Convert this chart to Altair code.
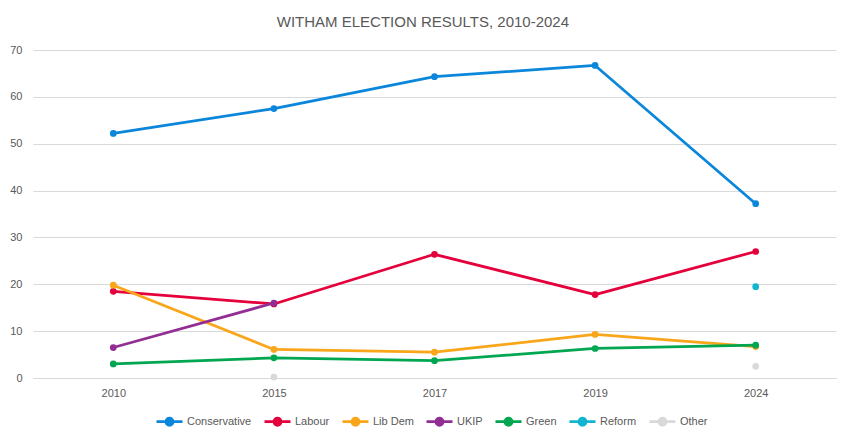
import pandas as pd
import altair as alt

years = ["2010", "2015", "2017", "2019", "2024"]

conservative = [52.2, 57.5, 64.3, 66.7, 37.2]
labour = [18.5, 15.8, 26.4, 17.8, 27.0]
lib_dem = [19.8, 6.1, 5.5, 9.3, 6.7]
ukip = [6.5, 16.0, None, None, None]
green = [3.0, 4.3, 3.7, 6.3, 7.0]
reform = [None, None, None, None, 19.5]
other = [None, 0.2, None, None, 2.5]

parties = ["Conservative", "Labour", "Lib Dem", "UKIP", "Green", "Reform", "Other"]
colours = ["#0A86DA", "#E4003B", "#FAA61A", "#922E93", "#00A650", "#12B5D0", "#D9D9D9"]
values = [conservative, labour, lib_dem, ukip, green, reform, other]

rows = []
for party, vals in zip(parties, values):
    for year, v in zip(years, vals):
        rows.append({"year": year, "party": party, "share": v})
df = pd.DataFrame(rows)

grey = "#595959"
font = "Liberation Sans"

# line with a dot in the middle, like the Excel legend keys
key_path = "M-1,0L1,0M0.27,0A0.27,0.27,0,1,1,-0.27,0A0.27,0.27,0,1,1,0.27,0Z"

x = alt.X("year:O", scale=alt.Scale(type="point", padding=0.5),
          axis=alt.Axis(title=None, labelAngle=0, ticks=False, grid=False,
                        domainColor="#D9D9D9", labelColor=grey, labelFontSize=11,
                        labelPadding=9, labelFont=font))
y = alt.Y("share:Q", scale=alt.Scale(domain=[0, 70], nice=False),
          axis=alt.Axis(title=None, values=list(range(0, 71, 10)), domain=False,
                        ticks=False, gridColor="#D9D9D9", labelColor=grey,
                        labelFontSize=11, labelPadding=11, labelFont=font))
color = alt.Color("party:N", scale=alt.Scale(domain=parties, range=colours),
                  legend=alt.Legend(
                      title=None, orient="none", legendX=122, legendY=357,
                      direction="horizontal", symbolType=key_path, symbolSize=676,
                      symbolStrokeWidth=2.75, symbolOpacity=1, labelFont=font,
                      labelFontSize=11, labelColor=grey, labelOffset=3,
                      columnPadding=7, padding=0))

layers = []
for party in parties:
    base = alt.Chart(df).transform_filter(alt.datum.party == party).encode(
        x=x, y=y, color=color)
    layers.append(base.mark_line(strokeWidth=2.75, strokeJoin="round",
                                 invalid="break-paths-show-domains"))
    layers.append(base.mark_circle(size=45, opacity=1))

chart = alt.layer(*layers).properties(
    width=803,
    height=328,
    autosize=alt.AutoSizeParams(type="none"),
    padding={"left": 25, "top": 42, "right": 7, "bottom": 54},
    title=alt.Title("WITHAM ELECTION RESULTS, 2010-2024", fontSize=15,
                    fontWeight="normal", color=grey, font=font, offset=14,
                    frame="bounds"),
).configure_view(stroke=None)

chart.save("out.html", embed_options={"renderer": "svg", "actions": False})
